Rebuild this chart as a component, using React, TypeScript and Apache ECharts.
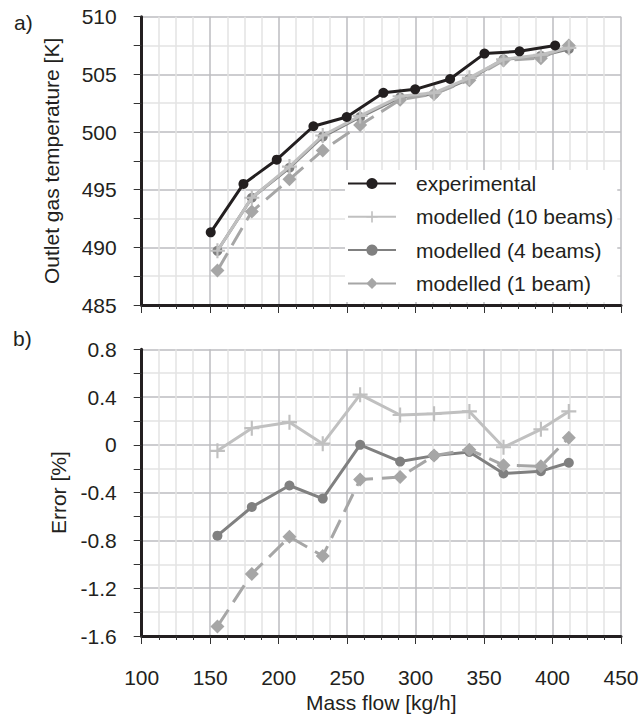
import React, { useEffect, useRef } from "react";
import * as echarts from "echarts";

// Mass flow [kg/h]
const expFlow = [150.4, 174.3, 198.6, 225.4, 249.7, 276.5, 299.7, 325.2, 350.3, 375.9, 401.9];
const modelFlow = [155.3, 180.4, 207.9, 232.2, 259.5, 288.7, 313.5, 339.3, 364.2, 391.5, 411.9];

// Outlet gas temperature [K]
const tempExperimental = [491.3, 495.5, 497.6, 500.5, 501.3, 503.4, 503.7, 504.6, 506.8, 507.0, 507.5];
const temp10Beams = [489.7, 494.3, 497.0, 499.7, 501.4, 503.1, 503.4, 504.7, 506.3, 506.7, 507.3];
const temp4Beams = [489.7, 494.3, 496.9, 499.6, 501.3, 503.0, 503.3, 504.6, 506.3, 506.6, 507.2];
const temp1Beam = [488.0, 493.1, 495.9, 498.4, 500.6, 502.8, 503.3, 504.5, 506.2, 506.4, 507.5];

// Error [%]
const err10Beams = [-0.05, 0.14, 0.19, 0.01, 0.42, 0.25, 0.26, 0.28, -0.02, 0.13, 0.28];
const err4Beams = [-0.76, -0.52, -0.34, -0.45, 0.0, -0.14, -0.09, -0.06, -0.24, -0.22, -0.15];
const err1Beam = [-1.52, -1.08, -0.77, -0.93, -0.29, -0.27, -0.09, -0.04, -0.17, -0.18, 0.06];

const seriesNames = ["experimental", "modelled (10 beams)", "modelled (4 beams)", "modelled (1 beam)"];
const xTicks = { min: 100, max: 450, step: 50 };
const yTopTicks = { min: 485, max: 510, step: 5 };
const yBottomTicks = { min: -1.6, max: 0.8, step: 0.4 };

const FONT = "'Liberation Sans', Arial, Helvetica, sans-serif";
const TEXT = "#231f20";
const C_EXP = "#231f20";
const C_10 = "#c0c0c0";
const C_4 = "#808080";
const C_1 = "#a6a6a6";
const PLUS = "path://M6,0H8V6H14V8H8V14H6V8H0V6H6Z";

const pairs = (xs: number[], ys: number[]) => xs.map((x, i) => [x, ys[i]]);

export default function App() {
  const ref = useRef<HTMLDivElement>(null);
  useEffect(() => {
    if (!ref.current) return;
    const chart = echarts.init(ref.current, undefined, { renderer: "svg" });

    const xAxis = (gridIndex: number) => ({
      type: "value",
      gridIndex,
      min: xTicks.min,
      max: xTicks.max,
      interval: xTicks.step,
      axisLine: { show: true, onZero: false, lineStyle: { color: TEXT, width: 3 } },
      axisTick: { show: true, length: 8, lineStyle: { color: "#333", width: 1 } },
      minorTick: { show: true, splitNumber: 4, length: 4, lineStyle: { color: "#333", width: 1 } },
      splitLine: { show: true, lineStyle: { color: "#bcbcc0", width: 1.5 } },
      minorSplitLine: { show: true, lineStyle: { color: "#e3e3e3", width: 1.5 } },
      axisLabel: {
        show: gridIndex === 1,
        margin: 31,
        fontSize: 21,
        lineHeight: 21,
        color: TEXT,
        fontFamily: FONT,
      },
      name: gridIndex === 1 ? "Mass flow [kg/h]" : "",
      nameLocation: "middle",
      nameGap: 56,
      nameTextStyle: { fontSize: 21, color: TEXT, fontFamily: FONT, lineHeight: 21 },
    });

    const yAxis = (gridIndex: number, t: { min: number; max: number; step: number }, name: string, gap: number) => ({
      type: "value",
      gridIndex,
      min: t.min,
      max: t.max,
      interval: t.step,
      axisLine: { show: true, onZero: false, lineStyle: { color: TEXT, width: 3 } },
      axisTick: { show: true, length: 8, lineStyle: { color: "#333", width: 1 } },
      minorTick: { show: true, splitNumber: 2, length: 8, lineStyle: { color: "#333", width: 1 } },
      splitLine: { show: true, lineStyle: { color: "#bcbcc0", width: 1.5 } },
      minorSplitLine: { show: true, lineStyle: { color: "#e3e3e3", width: 1.5 } },
      axisLabel: { margin: 25, fontSize: 21, color: TEXT, fontFamily: FONT },
      name,
      nameLocation: "middle",
      nameGap: gap,
      nameTextStyle: { fontSize: 21, color: TEXT, fontFamily: FONT },
    });

    const expSeries = (idx: number, data: number[][]) => ({
      name: seriesNames[0],
      type: "line",
      xAxisIndex: idx,
      yAxisIndex: idx,
      data,
      symbol: "circle",
      symbolSize: 10,
      lineStyle: { color: C_EXP, width: 3 },
      itemStyle: { color: C_EXP },
      z: 5,
    });
    const s10 = (idx: number, data: number[][], z: number) => ({
      name: seriesNames[1],
      type: "line",
      xAxisIndex: idx,
      yAxisIndex: idx,
      data,
      symbol: PLUS,
      symbolSize: 15,
      lineStyle: { color: C_10, width: 3 },
      itemStyle: { color: C_10 },
      z,
    });
    const s4 = (idx: number, data: number[][], z: number) => ({
      name: seriesNames[2],
      type: "line",
      xAxisIndex: idx,
      yAxisIndex: idx,
      data,
      symbol: "circle",
      symbolSize: 10,
      lineStyle: { color: C_4, width: 3 },
      itemStyle: { color: C_4 },
      z,
    });
    const s1 = (idx: number, data: number[][], z: number) => ({
      name: seriesNames[3],
      type: "line",
      xAxisIndex: idx,
      yAxisIndex: idx,
      data,
      symbol: "diamond",
      symbolSize: 14,
      lineStyle: { color: C_1, width: 3, type: [20, 9] },
      itemStyle: { color: C_1 },
      z,
    });

    chart.setOption({
      animation: false,
      backgroundColor: "#ffffff",
      textStyle: { fontFamily: FONT },
      grid: [
        { left: 141.7, top: 16.7, width: 479.3, height: 288.3 },
        { left: 141.7, top: 349.3, width: 479.3, height: 286.7 },
      ],
      xAxis: [xAxis(0), xAxis(1)],
      yAxis: [
        yAxis(0, yTopTicks, "Outlet gas temperature [K]", 80),
        yAxis(1, yBottomTicks, "Error [%]", 73),
      ],
      legend: {
        orient: "vertical",
        left: 345,
        top: 170,
        itemWidth: 48,
        itemHeight: 14,
        itemGap: 12.3,
        padding: [3, 4, 8, 2],
        backgroundColor: "#ffffff",
        selectedMode: false,
        textStyle: { fontSize: 21, color: TEXT, fontFamily: FONT, lineHeight: 21, padding: [0, 0, 0, 15] },
        data: seriesNames,
      },
      graphic: [
        { type: "text", left: 14, top: 12, style: { text: "a)", fontSize: 21, fill: TEXT, fontFamily: FONT } },
        { type: "text", left: 13, top: 328, style: { text: "b)", fontSize: 21, fill: TEXT, fontFamily: FONT } },
      ],
      series: [
        expSeries(0, pairs(expFlow, tempExperimental)),
        s4(0, pairs(modelFlow, temp4Beams), 2),
        s1(0, pairs(modelFlow, temp1Beam), 3),
        s10(0, pairs(modelFlow, temp10Beams), 4),
        s10(1, pairs(modelFlow, err10Beams), 2),
        s4(1, pairs(modelFlow, err4Beams), 3),
        s1(1, pairs(modelFlow, err1Beam), 4),
      ],
    });
    return () => chart.dispose();
  }, []);
  return <div ref={ref} style={{ position: "fixed", left: 0, top: 0, width: 642, height: 719 }} />;
}
